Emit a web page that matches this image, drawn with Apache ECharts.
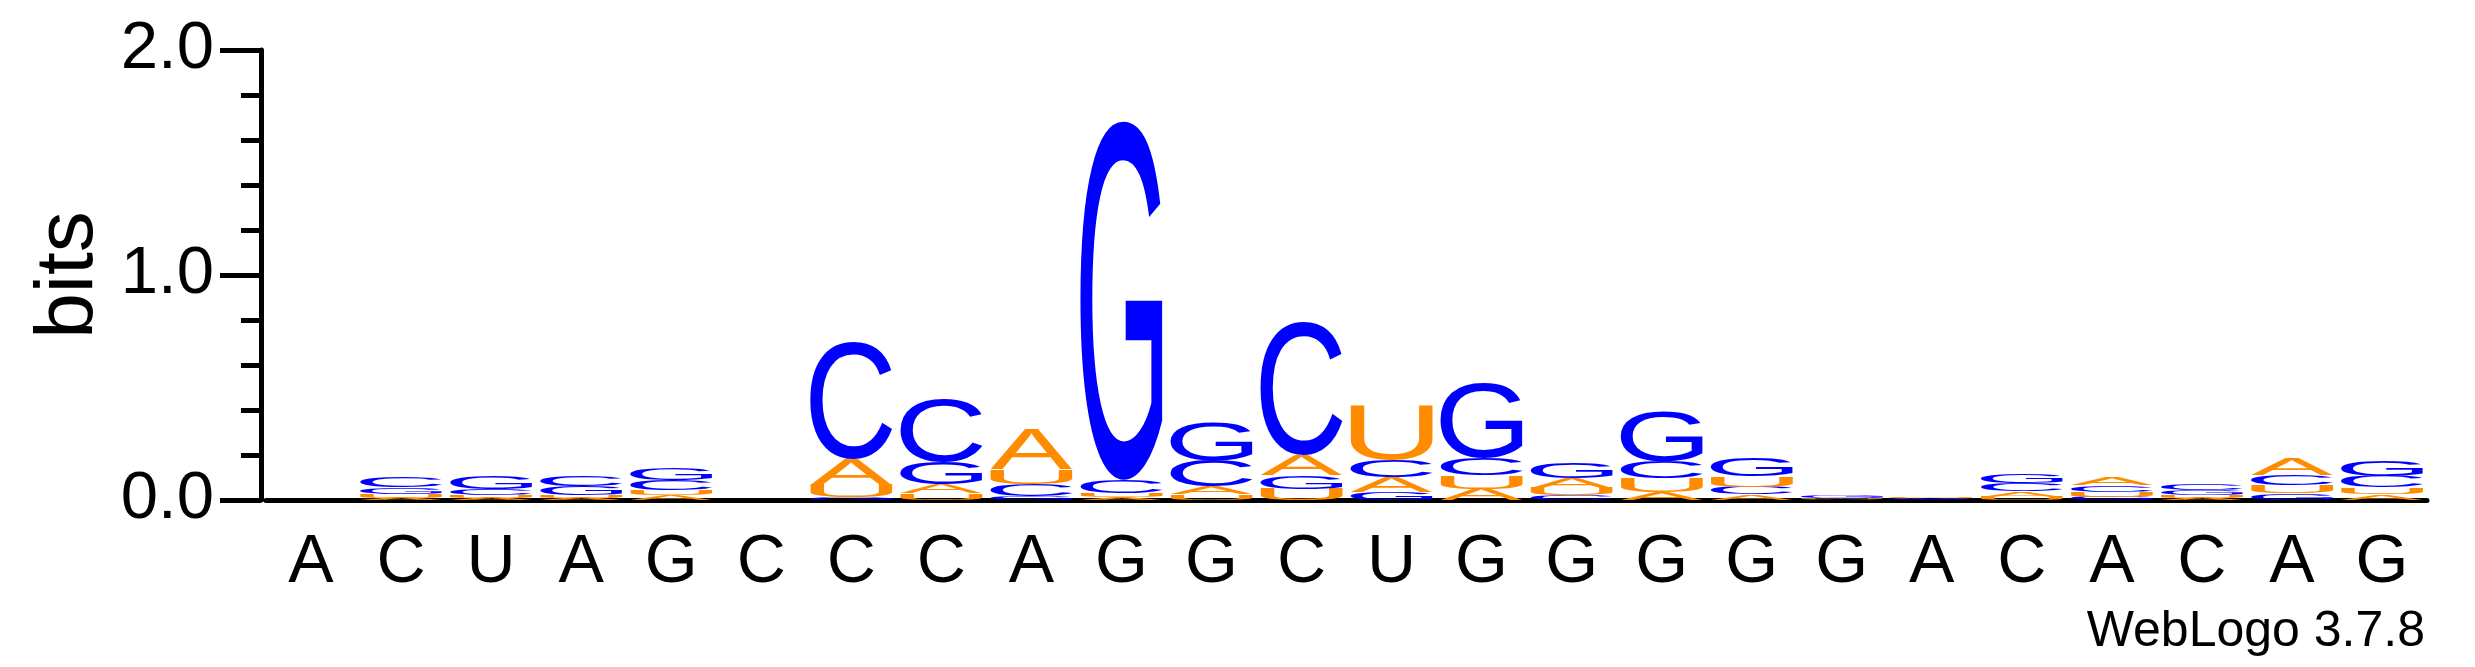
<!DOCTYPE html>
<html lang="en">

<head>
  <meta charset="UTF-8">
  <title>WebLogo</title>
  <script src="https://cdn.jsdelivr.net/npm/echarts@6/dist/echarts.min.js"></script>
  <style>
    body { margin: 0; background: #fff; }
  </style>
</head>

<body>
  <div id="chart" style="width: 2475px; height: 667px;"></div>
  <script>
    // sequence under each stack
    const positions = ['A', 'C', 'U', 'A', 'G', 'C', 'C', 'C', 'A', 'G', 'G', 'C',
      'U', 'G', 'G', 'G', 'G', 'G', 'A', 'C', 'A', 'C', 'A', 'G']

    // letter heights in bits, one value per position
    const bitsA = [0.002, 0.010, 0.010, 0.010, 0.020, 0.002, 0.115, 0.040, 0.180, 0.012, 0.035, 0.090,
      0.068, 0.050, 0.045, 0.035, 0.025, 0.003, 0.004, 0.025, 0.035, 0.010, 0.075, 0.025]
    const bitsC = [0.002, 0.045, 0.030, 0.045, 0.045, 0.002, 0.520, 0.280, 0.055, 0.060, 0.115, 0.590,
      0.075, 0.077, 0.022, 0.075, 0.033, 0.003, 0.003, 0.035, 0.030, 0.030, 0.045, 0.050]
    const bitsG = [0.002, 0.030, 0.060, 0.040, 0.055, 0.002, 0.012, 0.100, 0.015, 1.595, 0.170, 0.060,
      0.035, 0.335, 0.067, 0.225, 0.080, 0.010, 0.003, 0.040, 0.015, 0.025, 0.030, 0.070]
    const bitsU = [0.002, 0.015, 0.010, 0.010, 0.025, 0.002, 0.055, 0.030, 0.065, 0.018, 0.025, 0.050,
      0.240, 0.058, 0.032, 0.062, 0.047, 0.003, 0.008, 0.015, 0.020, 0.010, 0.035, 0.030]

    const yTicks = [0, 1, 2]

    const letters = ['A', 'C', 'G', 'U']
    const colors = { A: '#ff8c00', U: '#ff8c00', C: '#0000ff', G: '#0000ff' }
    const GLYPH_FONT = 'Liberation Sans'
    const GLYPH_SIZE = 200

    // ink box of each letter, measured the way zrender draws it (center / middle)
    const boxes = {}
    function glyphBox(ch) {
      if (!boxes[ch]) {
        const ctx = document.createElement('canvas').getContext('2d')
        ctx.font = GLYPH_SIZE + 'px "' + GLYPH_FONT + '"'
        ctx.textAlign = 'center'
        ctx.textBaseline = 'middle'
        const m = ctx.measureText(ch)
        boxes[ch] = {
          l: m.actualBoundingBoxLeft,
          r: m.actualBoundingBoxRight,
          a: m.actualBoundingBoxAscent,
          d: m.actualBoundingBoxDescent
        }
      }
      return boxes[ch]
    }

    const stacks = positions.map((p, i) => [i, bitsA[i], bitsC[i], bitsG[i], bitsU[i]])

    function renderStack(params, api) {
      const i = api.value(0)
      const cx = api.coord([i, 0])[0]
      const w = api.size([1, 0])[0] * 0.91
      // smallest letter at the bottom
      const col = letters.map((ch, k) => ({ ch, v: api.value(k + 1) }))
        .sort((a, b) => a.v - b.v)
      let cum = 0
      const children = []
      col.forEach(item => {
        if (item.v <= 0) return
        const yBot = api.coord([i, cum])[1]
        const yTop = api.coord([i, cum + item.v])[1]
        cum += item.v
        const g = glyphBox(item.ch)
        const sx = w / (g.l + g.r)
        const sy = (yBot - yTop) / (g.a + g.d)
        children.push({
          type: 'text',
          x: cx - w / 2 + g.l * sx,
          y: yTop + g.a * sy,
          scaleX: sx,
          scaleY: sy,
          style: {
            text: item.ch,
            fontFamily: GLYPH_FONT,
            fontSize: GLYPH_SIZE,
            fill: colors[item.ch],
            align: 'center',
            verticalAlign: 'middle'
          }
        })
      })
      return { type: 'group', children }
    }

    const myChart = echarts.init(document.getElementById('chart'))

    const option = {
      animation: false,
      backgroundColor: '#fff',
      textStyle: { fontFamily: 'Liberation Sans', color: '#000' },
      grid: { left: 266, right: 48, top: 50, bottom: 167 },
      xAxis: {
        type: 'category',
        data: positions,
        boundaryGap: true,
        axisLine: { lineStyle: { color: '#000', width: 5 } },
        axisTick: { alignWithLabel: true, length: 17, lineStyle: { color: '#000', width: 5 } },
        axisLabel: { fontSize: 68, color: '#000', margin: 29, interval: 0 },
        splitLine: { show: false }
      },
      yAxis: {
        type: 'value',
        min: yTicks[0],
        max: yTicks[yTicks.length - 1],
        interval: 1,
        offset: 5,
        name: 'bits',
        nameLocation: 'middle',
        nameRotate: 90,
        nameGap: 147,
        nameTextStyle: { fontSize: 82, color: '#000' },
        axisLine: { show: true, lineStyle: { color: '#000', width: 5 } },
        axisTick: { show: true, length: 41, lineStyle: { color: '#000', width: 5 } },
        minorTick: { show: true, splitNumber: 5, length: 20, lineStyle: { color: '#000', width: 5 } },
        axisLabel: { fontSize: 67, color: '#000', margin: 47, formatter: v => v.toFixed(1) },
        splitLine: { show: false },
        minorSplitLine: { show: false }
      },
      graphic: [{
        type: 'text',
        right: 50,
        top: 607,
        style: { text: 'WebLogo 3.7.8', fontSize: 50, fontFamily: 'Liberation Sans', fill: '#000' }
      }],
      series: [{
        type: 'custom',
        renderItem: renderStack,
        data: stacks,
        clip: false,
        silent: true
      }]
    }

    myChart.setOption(option)
  </script>
</body>

</html>
